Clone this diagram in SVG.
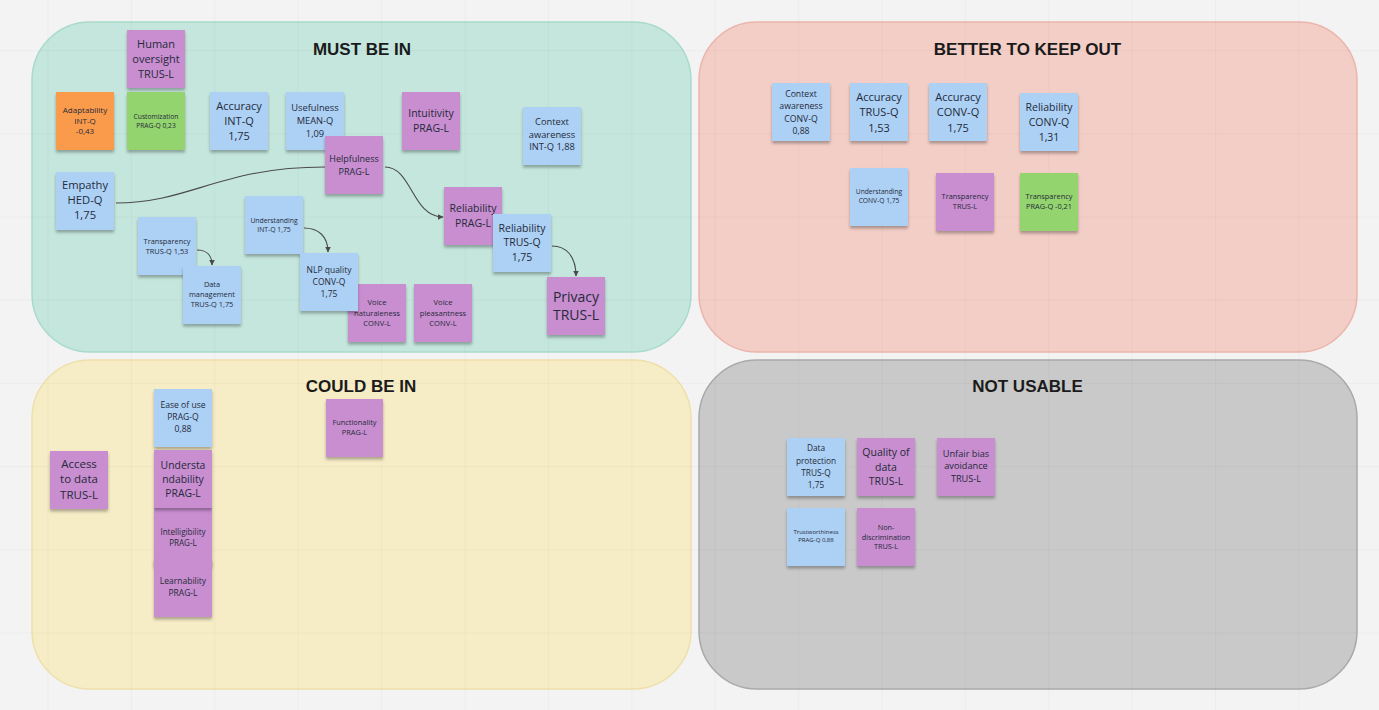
<svg xmlns="http://www.w3.org/2000/svg" width="1379" height="710" viewBox="0 0 1379 710">
<style>
.panel{stroke-width:1.5}
.title{font-family:"Liberation Sans",Arial,sans-serif;font-weight:bold;font-size:17px;fill:#1b1b1b;text-anchor:middle}
.grid line{stroke:#000;stroke-opacity:0.025;stroke-width:1.2}
.conn{fill:none;stroke:#4a4a4a;stroke-width:1.1}
.n{filter:url(#sh)}
.b{fill:#acd1f5}
.p{fill:#c88ed0}
.o{fill:#fa9b4b}
.g{fill:#93d46e}
.t{font-family:"Open Sans","Noto Sans",sans-serif;fill:#262a3a;text-anchor:middle}
</style>
<defs>
<filter id="sh" x="-20%" y="-20%" width="140%" height="150%">
<feDropShadow dx="0" dy="2.5" stdDeviation="1.8" flood-color="#000" flood-opacity="0.3"/>
</filter>
<marker id="arr" viewBox="0 0 6 6" refX="5.5" refY="3" markerWidth="6" markerHeight="6" markerUnits="userSpaceOnUse" orient="auto">
<path d="M0,0 L6,3 L0,6 z" fill="#4a4a4a"/>
</marker>
</defs>
<rect id="background" x="0" y="0" width="1379" height="710" fill="#f3f3f3"/>
<g id="panels">
<g id="must-be-in">
<rect class="panel" x="32" y="22" width="659" height="330" rx="58" fill="#c4e6dd" stroke="#a9dacb"/>
<text class="title" x="362" y="55">MUST BE IN</text>
</g>
<g id="better-to-keep-out">
<rect class="panel" x="699" y="22" width="658" height="330" rx="58" fill="#f3cec6" stroke="#ebb5ab"/>
<text class="title" x="1027.5" y="55">BETTER TO KEEP OUT</text>
</g>
<g id="could-be-in">
<rect class="panel" x="32" y="360" width="659" height="329" rx="58" fill="#f6ecc6" stroke="#eee0aa"/>
<text class="title" x="361" y="392">COULD BE IN</text>
</g>
<g id="not-usable">
<rect class="panel" x="699" y="360" width="658" height="329" rx="58" fill="#c9c9c9" stroke="#a9a9a9"/>
<text class="title" x="1027.5" y="392">NOT USABLE</text>
</g>
</g>
<g class="grid">
<line x1="48" y1="0" x2="48" y2="710"/><line x1="131.4" y1="0" x2="131.4" y2="710"/><line x1="214.8" y1="0" x2="214.8" y2="710"/><line x1="298.2" y1="0" x2="298.2" y2="710"/><line x1="381.6" y1="0" x2="381.6" y2="710"/><line x1="465" y1="0" x2="465" y2="710"/><line x1="548.4" y1="0" x2="548.4" y2="710"/><line x1="631.8" y1="0" x2="631.8" y2="710"/><line x1="715.2" y1="0" x2="715.2" y2="710"/><line x1="798.6" y1="0" x2="798.6" y2="710"/><line x1="882" y1="0" x2="882" y2="710"/><line x1="965.4" y1="0" x2="965.4" y2="710"/><line x1="1048.8" y1="0" x2="1048.8" y2="710"/><line x1="1132.2" y1="0" x2="1132.2" y2="710"/><line x1="1215.6" y1="0" x2="1215.6" y2="710"/><line x1="1299" y1="0" x2="1299" y2="710"/>
<line x1="0" y1="50.6" x2="1379" y2="50.6"/><line x1="0" y1="133.8" x2="1379" y2="133.8"/><line x1="0" y1="217" x2="1379" y2="217"/><line x1="0" y1="300.2" x2="1379" y2="300.2"/><line x1="0" y1="383.4" x2="1379" y2="383.4"/><line x1="0" y1="466.6" x2="1379" y2="466.6"/><line x1="0" y1="549.8" x2="1379" y2="549.8"/><line x1="0" y1="633" x2="1379" y2="633"/>
</g>
<g id="connectors">
<path class="conn" d="M116,203 C190,203 220,167 325,167"/>
<path class="conn" d="M197,250 C206,250 212,255 212,265" marker-end="url(#arr)"/>
<path class="conn" d="M304,228 C318,228 328,236 328,252" marker-end="url(#arr)"/>
<path class="conn" d="M385,167 C412,167 412,217 443,217" marker-end="url(#arr)"/>
<path class="conn" d="M552,246 C566,246 576,256 576,276" marker-end="url(#arr)"/>
</g>
<g id="human-oversight"><rect class="n p" x="127" y="30" width="58" height="58"/><text class="t" font-size="11"><tspan x="156" y="48">Human</tspan><tspan x="156" y="63">oversight</tspan><tspan x="156" y="78">TRUS-L</tspan></text></g>
<g id="adaptability"><rect class="n o" x="56" y="92" width="58" height="58"/><text class="t" font-size="8"><tspan x="85" y="113.4">Adaptability</tspan><tspan x="85" y="123.9">INT-Q</tspan><tspan x="85" y="134.4">-0,43</tspan></text></g>
<g id="customization"><rect class="n g" x="127" y="92" width="58" height="58"/><text class="t" font-size="6.7"><tspan x="156" y="118.8">Customization</tspan><tspan x="156" y="128.1">PRAG-Q 0,23</tspan></text></g>
<g id="accuracy-int-q"><rect class="n b" x="210" y="92" width="58" height="58"/><text class="t" font-size="11"><tspan x="239" y="110">Accuracy</tspan><tspan x="239" y="125">INT-Q</tspan><tspan x="239" y="140">1,75</tspan></text></g>
<g id="usefulness"><rect class="n b" x="286" y="92" width="58" height="58"/><text class="t" font-size="9.3"><tspan x="315" y="111.4">Usefulness</tspan><tspan x="315" y="124.4">MEAN-Q</tspan><tspan x="315" y="137.4">1,09</tspan></text></g>
<g id="intuitivity"><rect class="n p" x="402" y="92" width="58" height="58"/><text class="t" font-size="10.5"><tspan x="431" y="117.3">Intuitivity</tspan><tspan x="431" y="131.6">PRAG-L</tspan></text></g>
<g id="context-awareness-int-q"><rect class="n b" x="523" y="107" width="58" height="58"/><text class="t" font-size="9.3"><tspan x="552" y="125.4">Context</tspan><tspan x="552" y="137.9">awareness</tspan><tspan x="552" y="150.4">INT-Q 1,88</tspan></text></g>
<g id="helpfulness"><rect class="n p" x="325" y="136" width="58" height="58"/><text class="t" font-size="9"><tspan x="354" y="161.7">Helpfulness</tspan><tspan x="354" y="174.7">PRAG-L</tspan></text></g>
<g id="empathy"><rect class="n b" x="56" y="172" width="58" height="58"/><text class="t" font-size="11.2"><tspan x="85" y="189">Empathy</tspan><tspan x="85" y="204">HED-Q</tspan><tspan x="85" y="219">1,75</tspan></text></g>
<g id="understanding-int-q"><rect class="n b" x="245" y="196" width="58" height="58"/><text class="t" font-size="6.8"><tspan x="274" y="222.9">Understanding</tspan><tspan x="274" y="231.9">INT-Q 1,75</tspan></text></g>
<g id="transparency-trus-q"><rect class="n b" x="138" y="217" width="58" height="58"/><text class="t" font-size="7.4"><tspan x="167" y="243.5">Transparency</tspan><tspan x="167" y="253.8">TRUS-Q 1,53</tspan></text></g>
<g id="data-management"><rect class="n b" x="183" y="266" width="58" height="58"/><text class="t" font-size="7.4"><tspan x="212" y="287.2">Data</tspan><tspan x="212" y="297.2">management</tspan><tspan x="212" y="307.2">TRUS-Q 1,75</tspan></text></g>
<g id="reliability-prag-l"><rect class="n p" x="444" y="187" width="58" height="58"/><text class="t" font-size="10.5"><tspan x="473" y="212">Reliability</tspan><tspan x="473" y="226.7">PRAG-L</tspan></text></g>
<g id="reliability-trus-q"><rect class="n b" x="493" y="214" width="58" height="58"/><text class="t" font-size="10.5"><tspan x="522" y="231.6">Reliability</tspan><tspan x="522" y="246.1">TRUS-Q</tspan><tspan x="522" y="260.6">1,75</tspan></text></g>
<g id="privacy"><rect class="n p" x="547" y="277" width="58" height="58"/><text class="t" font-size="14"><tspan x="576" y="301.8">Privacy</tspan><tspan x="576" y="320.1">TRUS-L</tspan></text></g>
<g id="voice-naturaleness"><rect class="n p" x="348" y="284" width="58" height="58"/><text class="t" font-size="7.6"><tspan x="377" y="305">Voice</tspan><tspan x="377" y="315.5">naturaleness</tspan><tspan x="377" y="326">CONV-L</tspan></text></g>
<g id="nlp-quality"><rect class="n b" x="300" y="253" width="58" height="58"/><text class="t" font-size="8.5"><tspan x="329" y="273.2">NLP quality</tspan><tspan x="329" y="284.9">CONV-Q</tspan><tspan x="329" y="296.6">1,75</tspan></text></g>
<g id="voice-pleasantness"><rect class="n p" x="414" y="284" width="58" height="58"/><text class="t" font-size="7.6"><tspan x="443" y="305">Voice</tspan><tspan x="443" y="315.5">pleasantness</tspan><tspan x="443" y="326">CONV-L</tspan></text></g>
<g id="context-awareness-conv-q"><rect class="n b" x="772" y="83" width="58" height="58"/><text class="t" font-size="8.7"><tspan x="801" y="97.1">Context</tspan><tspan x="801" y="109.3">awareness</tspan><tspan x="801" y="121.5">CONV-Q</tspan><tspan x="801" y="133.7">0,88</tspan></text></g>
<g id="accuracy-trus-q"><rect class="n b" x="850" y="83" width="58" height="58"/><text class="t" font-size="11"><tspan x="879" y="101">Accuracy</tspan><tspan x="879" y="116.3">TRUS-Q</tspan><tspan x="879" y="131.6">1,53</tspan></text></g>
<g id="accuracy-conv-q"><rect class="n b" x="929" y="83" width="58" height="58"/><text class="t" font-size="11"><tspan x="958" y="101">Accuracy</tspan><tspan x="958" y="116.3">CONV-Q</tspan><tspan x="958" y="131.6">1,75</tspan></text></g>
<g id="reliability-conv-q"><rect class="n b" x="1020" y="93" width="58" height="58"/><text class="t" font-size="10.5"><tspan x="1049" y="111.1">Reliability</tspan><tspan x="1049" y="126.1">CONV-Q</tspan><tspan x="1049" y="140.5">1,31</tspan></text></g>
<g id="understanding-conv-q"><rect class="n b" x="850" y="168" width="58" height="58"/><text class="t" font-size="6.7"><tspan x="879" y="194.1">Understanding</tspan><tspan x="879" y="203.1">CONV-Q 1,75</tspan></text></g>
<g id="transparency-trus-l"><rect class="n p" x="936" y="173" width="58" height="58"/><text class="t" font-size="7.4"><tspan x="965" y="198.7">Transparency</tspan><tspan x="965" y="208.7">TRUS-L</tspan></text></g>
<g id="transparency-prag-q"><rect class="n g" x="1020" y="173" width="58" height="58"/><text class="t" font-size="7.4"><tspan x="1049" y="198.7">Transparency</tspan><tspan x="1049" y="208.7">PRAG-Q -0,21</tspan></text></g>
<g id="access-to-data"><rect class="n p" x="50" y="451" width="58" height="58"/><text class="t" font-size="11.5"><tspan x="79" y="468.1">Access</tspan><tspan x="79" y="483.4">to data</tspan><tspan x="79" y="499.1">TRUS-L</tspan></text></g>
<g id="ease-of-use"><rect class="n b" x="154" y="389" width="58" height="58"/><text class="t" font-size="8.6"><tspan x="183" y="408.1">Ease of use</tspan><tspan x="183" y="420.4">PRAG-Q</tspan><tspan x="183" y="432.1">0,88</tspan></text></g>
<g id="intelligibility"><rect class="n p" x="154" y="508" width="58" height="58"/><text class="t" font-size="8.1"><tspan x="183" y="534.6">Intelligibility</tspan><tspan x="183" y="545.6">PRAG-L</tspan></text></g>
<g id="understandability"><rect class="n p" x="154" y="450" width="58" height="58"/><text class="t" font-size="10.4"><tspan x="183" y="468.7">Understa</tspan><tspan x="183" y="483">ndability</tspan><tspan x="183" y="497">PRAG-L</tspan></text></g>
<g id="learnability"><rect class="n p" x="154" y="559" width="58" height="58"/><text class="t" font-size="8.5"><tspan x="183" y="584.1">Learnability</tspan><tspan x="183" y="595.8">PRAG-L</tspan></text></g>
<g id="functionality"><rect class="n p" x="326" y="399" width="57" height="58"/><text class="t" font-size="7.4"><tspan x="354.5" y="425">Functionality</tspan><tspan x="354.5" y="435">PRAG-L</tspan></text></g>
<g id="data-protection"><rect class="n b" x="787" y="438" width="58" height="58"/><text class="t" font-size="8.3"><tspan x="816" y="451.3">Data</tspan><tspan x="816" y="463.7">protection</tspan><tspan x="816" y="475.7">TRUS-Q</tspan><tspan x="816" y="488">1,75</tspan></text></g>
<g id="quality-of-data"><rect class="n p" x="857" y="438" width="58" height="58"/><text class="t" font-size="10.5"><tspan x="886" y="456.1">Quality of</tspan><tspan x="886" y="470.5">data</tspan><tspan x="886" y="484.8">TRUS-L</tspan></text></g>
<g id="unfair-bias-avoidance"><rect class="n p" x="937" y="438" width="58" height="58"/><text class="t" font-size="9.2"><tspan x="966" y="456.6">Unfair bias</tspan><tspan x="966" y="469.3">avoidance</tspan><tspan x="966" y="482.3">TRUS-L</tspan></text></g>
<g id="trustworthiness"><rect class="n b" x="787" y="508" width="58" height="58"/><text class="t" font-size="6"><tspan x="816" y="533.9">Trustworthiness</tspan><tspan x="816" y="541.5">PRAG-Q 0,88</tspan></text></g>
<g id="non-discrimination"><rect class="n p" x="857" y="508" width="58" height="58"/><text class="t" font-size="7.3"><tspan x="886" y="529.9">Non-</tspan><tspan x="886" y="539.9">discrimination</tspan><tspan x="886" y="549.3">TRUS-L</tspan></text></g>
</svg>
